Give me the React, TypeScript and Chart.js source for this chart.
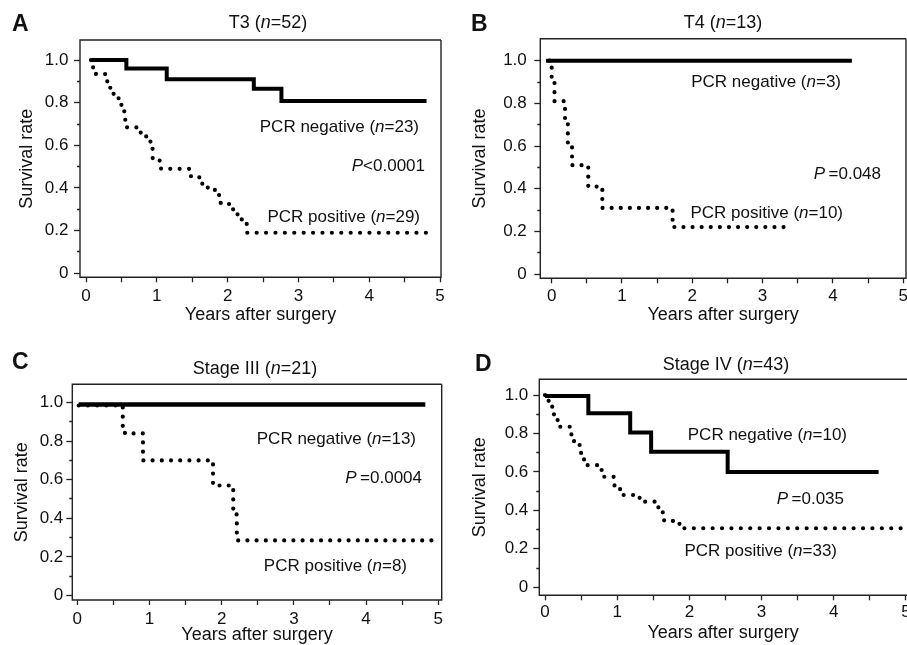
import React, { useEffect, useRef } from 'react';
import { Chart, registerables } from 'chart.js';

Chart.register(...registerables);

const FONT = '"Liberation Sans", Arial, Helvetica, sans-serif';
const INK = '#111';

// ---------- shared axis ticks ----------
const xTickValues = [0, 0.5, 1, 1.5, 2, 2.5, 3, 3.5, 4, 4.5, 5];
const xTickLabels = ['0', '', '1', '', '2', '', '3', '', '4', '', '5'];
const yTickValues = [0, 0.1, 0.2, 0.3, 0.4, 0.5, 0.6, 0.7, 0.8, 0.9, 1.0];
const yTickLabels = ['0', '', '0.2', '', '0.4', '', '0.6', '', '0.8', '', '1.0'];

// ---------- Panel A: T3 (n=52) ----------
const aNegTimes = [0.07, 0.57, 1.14, 2.37, 2.76, 4.81];
const aNegSurv = [1.0, 0.96, 0.91, 0.865, 0.808, 0.808];
const aPosTimes = [0.07, 0.09, 0.14, 0.3, 0.34, 0.39, 0.46, 0.5, 0.54, 0.58, 0.76, 0.85, 0.91, 0.94, 1.04, 1.06, 1.47, 1.6, 1.72, 1.82, 1.88, 2.02, 2.14, 2.2, 2.27, 4.93];
const aPosSurv = [1.0, 0.966, 0.934, 0.9, 0.87, 0.84, 0.8, 0.76, 0.72, 0.684, 0.66, 0.63, 0.6, 0.54, 0.52, 0.49, 0.455, 0.42, 0.4, 0.385, 0.33, 0.3, 0.275, 0.24, 0.19, 0.19];

// ---------- Panel B: T4 (n=13) ----------
const bNegTimes = [-0.08, 4.27];
const bNegSurv = [1.0, 1.0];
const bPosTimes = [-0.03, 0.0, 0.04, 0.19, 0.23, 0.29, 0.52, 0.72, 1.72, 3.33];
const bPosSurv = [1.0, 0.9, 0.81, 0.72, 0.61, 0.51, 0.41, 0.31, 0.22, 0.22];

// ---------- Panel C: Stage III (n=21) ----------
const cNegTimes = [0.02, 4.82];
const cNegSurv = [0.99, 0.99];
const cPosTimes = [0.02, 0.63, 0.66, 0.91, 1.88, 2.16, 2.21, 4.93];
const cPosSurv = [0.985, 0.87, 0.84, 0.7, 0.57, 0.42, 0.285, 0.285];

// ---------- Panel D: Stage IV (n=43) ----------
const dNegTimes = [0.0, 0.6, 1.18, 1.47, 2.53, 4.62];
const dNegSurv = [0.995, 0.905, 0.805, 0.705, 0.6, 0.6];
const dPosTimes = [0.0, 0.02, 0.06, 0.1, 0.15, 0.2, 0.35, 0.39, 0.48, 0.5, 0.54, 0.58, 0.75, 0.8, 0.95, 1.04, 1.08, 1.3, 1.38, 1.52, 1.57, 1.62, 1.65, 1.82, 1.9, 4.97];
const dPosSurv = [1.0, 0.97, 0.94, 0.9, 0.87, 0.835, 0.795, 0.76, 0.73, 0.695, 0.665, 0.635, 0.61, 0.575, 0.53, 0.51, 0.48, 0.465, 0.445, 0.43, 0.41, 0.39, 0.345, 0.33, 0.307, 0.307];

type Ann = { text: string; x: number; y: number; align: 'left' | 'center' | 'right'; size: number; bold?: boolean };

type PanelCfg = {
  left: number; top: number; width: number; height: number;
  area: { left: number; top: number; right: number; bottom: number };
  xMin: number; xMax: number; yMin: number; yMax: number;
  negT: number[]; negS: number[]; posT: number[]; posS: number[];
  negWidth: number; dotGap: number;
  yTickPad: number; xTickPad: number;
  yTitleX: number; xTitleY: number;
  rightBorder: boolean;
  texts: Ann[];
};

const TH = 10.8; // half line height of the 18px axis titles

const panels: PanelCfg[] = [
  {
    left: 0, top: 0, width: 450, height: 330,
    area: { left: 80, top: 40, right: 441, bottom: 277.3 },
    xMin: -0.085, xMax: 5.014, yMin: -0.019, yMax: 1.094,
    negT: aNegTimes, negS: aNegSurv, posT: aPosTimes, posS: aPosSurv,
    negWidth: 4, dotGap: 9.4, yTickPad: 5.5, xTickPad: 4.2,
    yTitleX: 27, xTitleY: 315.5, rightBorder: true,
    texts: [
      { text: 'A', x: 12, y: 25, align: 'left', size: 23, bold: true },
      { text: 'T3 (*n*=52)', x: 268, y: 23, align: 'center', size: 18 },
      { text: 'PCR negative (*n*=23)', x: 419, y: 127, align: 'right', size: 17 },
      { text: '*P*<0.0001', x: 425, y: 166, align: 'right', size: 17 },
      { text: 'PCR positive (*n*=29)', x: 420, y: 217, align: 'right', size: 17 },
    ],
  },
  {
    left: 450, top: 0, width: 457, height: 330,
    area: { left: 90.3, top: 38.7, right: 456, bottom: 278.3 },
    xMin: -0.162, xMax: 5.04, yMin: -0.02, yMax: 1.103,
    negT: bNegTimes, negS: bNegSurv, posT: bPosTimes, posS: bPosSurv,
    negWidth: 4, dotGap: 9.1, yTickPad: 7.5, xTickPad: 3.2,
    yTitleX: 30, xTitleY: 315.5, rightBorder: true,
    texts: [
      { text: 'B', x: 21, y: 25, align: 'left', size: 23, bold: true },
      { text: 'T4 (*n*=13)', x: 273, y: 23, align: 'center', size: 18 },
      { text: 'PCR negative (*n*=3)', x: 391, y: 82, align: 'right', size: 17 },
      { text: '*P*\u2009=0.048', x: 431, y: 174, align: 'right', size: 17 },
      { text: 'PCR positive (*n*=10)', x: 393, y: 213, align: 'right', size: 17 },
    ],
  },
  {
    left: 0, top: 320, width: 450, height: 330,
    area: { left: 72.3, top: 64.3, right: 441.7, bottom: 280 },
    xMin: -0.069, xMax: 5.047, yMin: -0.024, yMax: 1.095,
    negT: cNegTimes, negS: cNegSurv, posT: cPosTimes, posS: cPosSurv,
    negWidth: 4.5, dotGap: 9.2, yTickPad: 3, xTickPad: 3.8,
    yTitleX: 21.7, xTitleY: 315.5, rightBorder: true,
    texts: [
      { text: 'C', x: 12, y: 43, align: 'left', size: 23, bold: true },
      { text: 'Stage III (*n*=21)', x: 255, y: 49, align: 'center', size: 18 },
      { text: 'PCR negative (*n*=13)', x: 416, y: 119, align: 'right', size: 17 },
      { text: '*P*\u2009=0.0004', x: 422, y: 158, align: 'right', size: 17 },
      { text: 'PCR positive (*n*=8)', x: 407, y: 246, align: 'right', size: 17 },
    ],
  },
  {
    left: 450, top: 320, width: 457, height: 330,
    area: { left: 89.3, top: 59.3, right: 457, bottom: 275.3 },
    xMin: -0.079, xMax: 5.014, yMin: -0.042, yMax: 1.082,
    negT: dNegTimes, negS: dNegSurv, posT: dPosTimes, posS: dPosSurv,
    negWidth: 4, dotGap: 9.4, yTickPad: 5, xTickPad: 1.5,
    yTitleX: 30, xTitleY: 313.3, rightBorder: false,
    texts: [
      { text: 'D', x: 25, y: 45, align: 'left', size: 23, bold: true },
      { text: 'Stage IV (*n*=43)', x: 276, y: 45, align: 'center', size: 18 },
      { text: 'PCR negative (*n*=10)', x: 397, y: 115, align: 'right', size: 17 },
      { text: '*P*\u2009=0.035', x: 394, y: 179, align: 'right', size: 17 },
      { text: 'PCR positive (*n*=33)', x: 387, y: 231, align: 'right', size: 17 },
    ],
  },
];

function drawRich(ctx: CanvasRenderingContext2D, a: Ann) {
  const parts = a.text.split('*');
  const weight = a.bold ? 'bold' : 'normal';
  const fonts = parts.map((_, i) => `${i % 2 === 1 ? 'italic ' : ''}${weight} ${a.size}px ${FONT}`);
  let total = 0;
  parts.forEach((p, i) => {
    ctx.font = fonts[i];
    total += ctx.measureText(p).width;
  });
  let x = a.align === 'left' ? a.x : a.align === 'center' ? a.x - total / 2 : a.x - total;
  ctx.textBaseline = 'middle';
  ctx.textAlign = 'left';
  ctx.fillStyle = INK;
  parts.forEach((p, i) => {
    ctx.font = fonts[i];
    ctx.fillText(p, x, a.y);
    x += ctx.measureText(p).width;
  });
}

function Panel({ cfg }: { cfg: PanelCfg }) {
  const ref = useRef<HTMLCanvasElement | null>(null);

  useEffect(() => {
    const canvas = ref.current;
    if (!canvas) return;

    const framePlugin = {
      id: 'frame',
      afterDatasetsDraw(chart: any) {
        const { ctx, chartArea } = chart;
        const { left, top, right, bottom } = chartArea;
        ctx.save();
        ctx.strokeStyle = '#222';
        ctx.lineWidth = 1.4;
        ctx.beginPath();
        ctx.moveTo(right + (cfg.rightBorder ? 0 : 2), top);
        ctx.lineTo(left, top);
        ctx.lineTo(left, bottom);
        ctx.lineTo(right + (cfg.rightBorder ? 0 : 2), bottom);
        if (cfg.rightBorder) {
          ctx.lineTo(right, top);
        }
        ctx.stroke();
        ctx.restore();
      },
    };

    const textPlugin = {
      id: 'panelText',
      afterDraw(chart: any) {
        const ctx = chart.ctx as CanvasRenderingContext2D;
        ctx.save();
        cfg.texts.forEach((t) => drawRich(ctx, t));
        ctx.restore();
      },
    };

    const chart = new Chart(canvas, {
      type: 'line',
      data: {
        datasets: [
          {
            label: 'PCR negative',
            data: cfg.negT.map((t, i) => ({ x: t, y: cfg.negS[i] })),
            borderColor: '#000',
            borderWidth: cfg.negWidth,
            stepped: 'before',
            pointRadius: 0,
            borderCapStyle: 'butt',
            borderJoinStyle: 'miter',
            fill: false,
          },
          {
            label: 'PCR positive',
            data: cfg.posT.map((t, i) => ({ x: t, y: cfg.posS[i] })),
            borderColor: '#000',
            borderWidth: 4.2,
            borderDash: [0, cfg.dotGap],
            borderCapStyle: 'round',
            stepped: 'before',
            pointRadius: 0,
            fill: false,
          },
        ],
      },
      options: {
        responsive: false,
        animation: false,
        devicePixelRatio: 1,
        events: [],
        layout: {
          padding: { left: 0, top: cfg.area.top, right: cfg.width - cfg.area.right, bottom: 0 },
        },
        plugins: {
          legend: { display: false },
          tooltip: { enabled: false },
          title: { display: false },
        },
        scales: {
          x: {
            type: 'linear',
            position: 'bottom',
            min: cfg.xMin,
            max: cfg.xMax,
            afterBuildTicks: (s: any) => {
              s.ticks = xTickValues.map((v) => ({ value: v }));
            },
            afterFit: (s: any) => {
              s.height = cfg.height - cfg.area.bottom;
              s.paddingLeft = 0;
              s.paddingRight = 0;
              s.paddingTop = 0;
              s.paddingBottom = 0;
            },
            ticks: {
              autoSkip: false,
              maxRotation: 0,
              minRotation: 0,
              padding: cfg.xTickPad,
              color: INK,
              font: { family: FONT, size: 17, lineHeight: 1.2 },
              callback: (_v: any, i: number) => xTickLabels[i],
            },
            grid: {
              drawOnChartArea: false,
              drawTicks: true,
              tickLength: 5,
              tickWidth: 1.3,
              tickColor: '#222',
            },
            border: { display: false },
            title: {
              display: true,
              text: 'Years after surgery',
              color: INK,
              font: { family: FONT, size: 18, lineHeight: 1.2 },
              padding: { top: 0, bottom: cfg.height - cfg.xTitleY - TH },
            },
          },
          y: {
            type: 'linear',
            position: 'left',
            min: cfg.yMin,
            max: cfg.yMax,
            afterBuildTicks: (s: any) => {
              s.ticks = yTickValues.map((v) => ({ value: v }));
            },
            afterFit: (s: any) => {
              s.width = cfg.area.left;
              s.paddingLeft = 0;
              s.paddingRight = 0;
              s.paddingTop = 0;
              s.paddingBottom = 0;
            },
            ticks: {
              autoSkip: false,
              padding: cfg.yTickPad,
              color: INK,
              font: { family: FONT, size: 17, lineHeight: 1.2 },
              callback: (_v: any, i: number) => yTickLabels[i],
            },
            grid: {
              drawOnChartArea: false,
              drawTicks: true,
              tickLength: 6,
              tickWidth: 1.3,
              tickColor: '#222',
              tickBorderDash: (c: any) => (c.index % 2 === 1 ? [0, 3, 3, 20] : []),
            },
            border: { display: false },
            title: {
              display: true,
              text: 'Survival rate',
              color: INK,
              font: { family: FONT, size: 18, lineHeight: 1.2 },
              padding: { top: cfg.yTitleX - TH, bottom: 0 },
            },
          },
        },
      },
      plugins: [framePlugin, textPlugin],
    } as any);

    return () => chart.destroy();
  }, [cfg]);

  return (
    <canvas
      ref={ref}
      width={cfg.width}
      height={cfg.height}
      style={{
        position: 'absolute',
        left: cfg.left,
        top: cfg.top,
        width: cfg.width,
        height: cfg.height,
        display: 'block',
      }}
    />
  );
}

export default function App() {
  return (
    <div
      style={{
        position: 'absolute',
        left: 0,
        top: 0,
        width: 907,
        height: 645,
        overflow: 'hidden',
        background: '#fff',
      }}
    >
      {panels.map((p, i) => (
        <Panel key={i} cfg={p} />
      ))}
    </div>
  );
}
